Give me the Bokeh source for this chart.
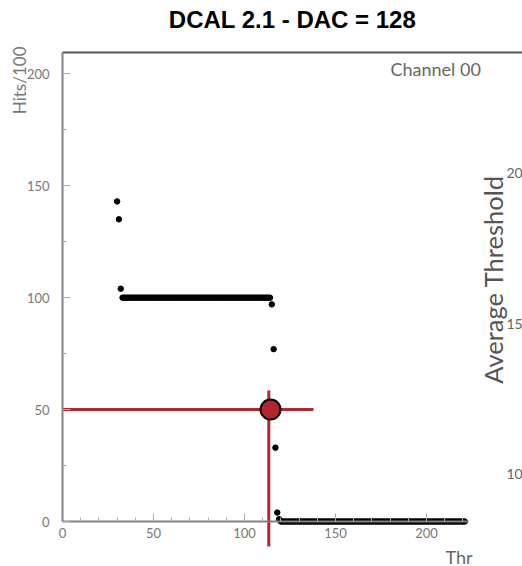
import numpy as np
from bokeh.plotting import figure
from bokeh.models import Range1d, Label, SingleIntervalTicker
from bokeh.embed import file_html
from bokeh.resources import INLINE

# ---------------- data ----------------
thr_head = [30, 31, 32]
hits_head = [143, 135, 104]
thr_plateau = list(range(33, 115))
hits_plateau = [100] * len(thr_plateau)
thr_edge = [115, 116, 117, 118, 119]
hits_edge = [97, 77, 33, 4, 1]
thr_tail = list(range(120, 222))
hits_tail = [0] * len(thr_tail)

threshold = thr_head + thr_plateau + thr_edge + thr_tail
hits = hits_head + hits_plateau + hits_edge + hits_tail

half_x = 114.3      # 50% point marker
half_y = 50
cross_x = 113.35    # vertical red guide
x_ticks_major = 50
y_ticks_major = 50

title_text = "DCAL 2.1 - DAC = 128"
channel_text = "Channel 00"
ylabel_text = "Hits/100"
right_label = "Average Threshold"
right_ticks = ["20", "15", "10"]
xlabel_part = "Thr"

# ---------------- geometry helpers (page px -> data) ----------------
W, H = 522, 566
PX_X0, PX_PER_X = 62.0, 1.82
PX_Y0, PX_PER_Y = 521.0, 2.2385
def X(px):
    return (px - PX_X0) / PX_PER_X
def Y(py):
    return (PX_Y0 - py) / PX_PER_Y

RED = "#b3262e"
GRAY = "#777777"

p = figure(width=W, height=H, title=None, toolbar_location=None,
           output_backend="svg",
           x_range=Range1d(X(0), X(W)), y_range=Range1d(Y(H), Y(0)),
           min_border_left=0, min_border_right=0, min_border_top=0, min_border_bottom=0)
p.outline_line_color = None
p.xgrid.visible = False
p.ygrid.visible = False
p.background_fill_color = "white"
p.border_fill_color = "white"

# axes placed at the data origin
p.xaxis.fixed_location = 0
p.yaxis.fixed_location = 0
p.xaxis.ticker = SingleIntervalTicker(interval=x_ticks_major, num_minor_ticks=5)
p.yaxis.ticker = SingleIntervalTicker(interval=y_ticks_major, num_minor_ticks=2)
p.xaxis.bounds = (0, X(468))
p.yaxis.bounds = (0, Y(52))
for ax in (p.xaxis[0], p.yaxis[0]):
    ax.axis_line_color = "#808080"
    ax.axis_line_width = 2
    ax.major_tick_in = 8
    ax.major_tick_out = 0
    ax.minor_tick_in = 4
    ax.minor_tick_out = 0
    ax.major_tick_line_color = "#aaaaaa"
    ax.minor_tick_line_color = "#aaaaaa"
    ax.major_label_text_font = "Lato"
    ax.major_label_text_font_size = "13px"
    ax.major_label_text_color = GRAY
p.xaxis.major_label_standoff = 6
p.yaxis.major_label_standoff = 13

# data
p.scatter(threshold, hits, size=5.5, color="black")

# top frame border
p.line([0, X(W)], [Y(52), Y(52)], line_color="#555555", line_width=2)

# red guide lines and 50% marker
p.line([0, X(313)], [half_y, half_y], line_color=RED, line_width=3)
p.line([cross_x, cross_x], [Y(390), Y(546)], line_color=RED, line_width=3)
p.scatter([half_x], [half_y], size=20, fill_color=RED, line_color="black", line_width=2)

# texts
p.add_layout(Label(x=X(292), y=Y(19), text=title_text, text_align="center",
                   text_baseline="middle", text_font="Liberation Sans",
                   text_font_style="bold", text_font_size="24px", text_color="black"))
p.add_layout(Label(x=X(390), y=Y(68.5), text=channel_text, text_align="left",
                   text_baseline="middle", text_font="Lato",
                   text_font_size="18px", text_color="#666666"))
p.add_layout(Label(x=X(19), y=Y(46), text=ylabel_text, angle=np.pi / 2,
                   text_align="right", text_baseline="middle", text_font="Lato",
                   text_font_size="17px", text_color=GRAY))
p.add_layout(Label(x=X(492), y=Y(279), text=right_label, angle=np.pi / 2,
                   text_align="center", text_baseline="middle", text_font="Lato",
                   text_font_size="25.5px", text_color="#555555"))
for t, py in zip(right_ticks, [172, 323, 473]):
    p.add_layout(Label(x=X(506), y=Y(py), text=t, text_align="left",
                       text_baseline="middle", text_font="Lato",
                       text_font_size="14px", text_color="#666666"))
p.add_layout(Label(x=X(445), y=Y(556), text=xlabel_part, text_align="left",
                   text_baseline="middle", text_font="Lato",
                   text_font_size="18px", text_color="#666666"))

open("out.html", "w").write(file_html(p, INLINE))
